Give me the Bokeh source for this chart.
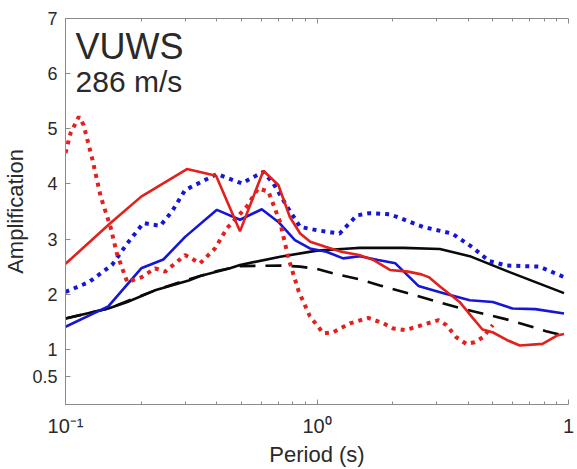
from bokeh.plotting import figure
from bokeh.models import FixedTicker, LogAxis, Label, Range1d
from bokeh.embed import file_html
from bokeh.resources import INLINE

# ---------------- data ----------------
red_solid_T = [0.1, 0.151, 0.2, 0.304, 0.397, 0.494, 0.612, 0.702, 0.78, 0.857, 0.94,
               1.08, 1.25, 1.47, 1.68, 1.95, 2.3, 2.6, 2.78, 3.1, 3.69, 4.16, 4.55,
               4.99, 5.68, 6.4, 7.88, 9.0, 9.6]
red_solid_A = [2.55, 3.29, 3.77, 4.27, 4.15, 3.14, 4.24, 3.98, 3.4, 3.1, 2.95,
               2.86, 2.77, 2.71, 2.62, 2.44, 2.41, 2.36, 2.31, 2.13, 1.86, 1.57, 1.36,
               1.31, 1.17, 1.07, 1.10, 1.25, 1.28]

red_dot_T = [0.1, 0.1047, 0.113, 0.118, 0.128, 0.138, 0.151, 0.160, 0.176, 0.201, 0.227,
             0.249, 0.299, 0.343, 0.393, 0.439, 0.526, 0.584, 0.641, 0.714, 0.770, 0.846,
             0.937, 1.06, 1.16, 1.35, 1.6, 1.84, 2.01, 2.24, 2.49, 3.04, 3.27, 3.58, 3.92,
             4.24, 4.57, 5.0]
red_dot_A = [4.56, 4.92, 5.22, 5.07, 4.44, 3.77, 3.22, 2.74, 2.22, 2.31, 2.47,
             2.41, 2.71, 2.56, 2.83, 3.2, 3.59, 3.92, 3.86, 3.3, 2.65, 2.05,
             1.6, 1.29, 1.31, 1.47, 1.57, 1.47, 1.38, 1.35, 1.41, 1.53, 1.44, 1.22, 1.10,
             1.13, 1.22, 1.44]

blue_solid_T = [0.1, 0.148, 0.2, 0.245, 0.299, 0.40, 0.494, 0.603, 0.702, 0.817, 0.937,
                1.09, 1.27, 1.48, 1.75, 2.05, 2.53, 3.16, 4.05, 5.0, 5.99, 7.38, 9.6]
blue_solid_A = [1.41, 1.78, 2.47, 2.63, 3.04, 3.53, 3.35, 3.54, 3.31, 2.98, 2.83,
                2.77, 2.65, 2.69, 2.62, 2.56, 2.15, 2.02, 1.89, 1.86, 1.74, 1.73, 1.65]

blue_dot_T = [0.1, 0.124, 0.153, 0.176, 0.204, 0.238, 0.265, 0.299, 0.348, 0.40, 0.502,
              0.612, 0.670, 0.758, 0.857, 1.0, 1.23, 1.44, 1.62, 1.95, 2.64, 3.45, 4.15,
              4.84, 5.68, 7.66, 9.6]
blue_dot_A = [2.04, 2.22, 2.53, 2.92, 3.29, 3.24, 3.5, 3.89, 4.04, 4.18, 4.01,
              4.22, 4.01, 3.6, 3.22, 3.16, 3.10, 3.43, 3.47, 3.45, 3.22, 3.10, 2.85,
              2.6, 2.52, 2.5, 2.31]

black_solid_T = [0.1, 0.148, 0.176, 0.227, 0.309, 0.343, 0.451, 0.494, 0.714, 1.0, 1.35,
                 1.48, 2.2, 3.08, 4.05, 5.83, 9.6]
black_solid_A = [1.56, 1.74, 1.86, 2.07, 2.25, 2.33, 2.47, 2.53, 2.68, 2.79, 2.83,
                 2.84, 2.84, 2.82, 2.69, 2.40, 2.02]

black_dash_T = [0.1, 0.148, 0.227, 0.309, 0.40, 0.494, 0.714, 0.857, 1.0, 1.2, 1.48,
                1.78, 2.33, 3.69, 5.83, 8.14, 9.6]
black_dash_A = [1.56, 1.74, 2.07, 2.27, 2.42, 2.51, 2.52, 2.5, 2.46, 2.36, 2.27,
                2.16, 2.01, 1.75, 1.53, 1.33, 1.25]

x_major = [0.1, 1, 10]
x_major_labels = ["10\u207b\u00b9", "10\u2070", "1"]
x_minor = [0.2, 0.3, 0.4, 0.5, 0.6, 0.7, 0.8, 0.9, 2, 3, 4, 5, 6, 7, 8, 9]
y_ticks = [0.5, 1, 2, 3, 4, 5, 6, 7]
y_tick_labels = ["0.5", "1", "2", "3", "4", "5", "6", "7"]

site_name = "VUWS"
site_vs = "286 m/s"

# ---------------- styling ----------------
FONT = "Liberation Sans"
RED = "#e3201c"
BLUE = "#1616d6"
BLACK = "#0a0a0a"
AXC = "#8a8a8a"
TXT = "#2a2a2a"

p = figure(width=577, height=469, x_axis_type="log",
           x_range=Range1d(0.1, 10), y_range=Range1d(0, 7),
           output_backend="svg", toolbar_location=None,
           min_border_left=65, min_border_right=9,
           min_border_top=18, min_border_bottom=65)
p.grid.visible = False
p.outline_line_color = None
p.background_fill_color = "white"
p.border_fill_color = "white"

# lines
p.line(black_dash_T, black_dash_A, line_color=BLACK, line_width=2.6, line_dash="16 10")
p.line(black_solid_T, black_solid_A, line_color=BLACK, line_width=2.6)
p.line(blue_dot_T, blue_dot_A, line_color=BLUE, line_width=4, line_dash="4 5")
p.line(blue_solid_T, blue_solid_A, line_color=BLUE, line_width=2.6)
p.line(red_dot_T, red_dot_A, line_color=RED, line_width=4, line_dash="4 5")
p.line(red_solid_T, red_solid_A, line_color=RED, line_width=2.6)

# x axis
xa = p.xaxis[0]
xa.ticker = FixedTicker(ticks=x_major, minor_ticks=x_minor)
xa.major_label_overrides = dict(zip(x_major, x_major_labels))
xa.axis_label = "Period (s)"
xa.axis_label_text_font = FONT
xa.axis_label_text_font_size = "22px"
xa.axis_label_text_font_style = "normal"
xa.axis_label_text_color = TXT
xa.axis_label_standoff = 2
xa.major_label_text_font = FONT
xa.major_label_text_font_size = "20px"
xa.major_label_text_color = TXT
xa.major_label_standoff = 10
xa.axis_line_color = AXC
xa.major_tick_line_color = AXC
xa.minor_tick_line_color = AXC
xa.major_tick_in = 5
xa.major_tick_out = 0
xa.minor_tick_in = 3
xa.minor_tick_out = 0

# y axis
ya = p.yaxis[0]
ya.ticker = FixedTicker(ticks=y_ticks)
ya.major_label_overrides = dict(zip(y_ticks, y_tick_labels))
ya.axis_label = "Amplification"
ya.axis_label_text_font = FONT
ya.axis_label_text_font_size = "22px"
ya.axis_label_text_font_style = "normal"
ya.axis_label_text_color = TXT
ya.axis_label_standoff = 1
ya.major_label_text_font = FONT
ya.major_label_text_font_size = "18px"
ya.major_label_text_color = TXT
ya.major_label_standoff = 8
ya.axis_line_color = AXC
ya.major_tick_line_color = AXC
ya.major_tick_in = 5
ya.major_tick_out = 0
ya.minor_tick_line_color = None

# top box axis
top = LogAxis(ticker=FixedTicker(ticks=x_major, minor_ticks=x_minor),
              major_label_text_font_size="0px", major_label_standoff=0,
              axis_line_color=AXC, major_tick_line_color=AXC,
              minor_tick_line_color=AXC, major_tick_in=5, major_tick_out=0,
              minor_tick_in=3, minor_tick_out=0)
top.major_label_overrides = {v: "" for v in x_major}
p.add_layout(top, "above")

# site text
p.add_layout(Label(x=0.1096, y=6.5, text=site_name, text_font=FONT,
                   text_font_size="36px", text_color=TXT, text_baseline="alphabetic"))
p.add_layout(Label(x=0.1096, y=5.85, text=site_vs, text_font=FONT,
                   text_font_size="30px", text_color=TXT, text_baseline="alphabetic"))

open("out.html", "w").write(file_html(p, INLINE))
